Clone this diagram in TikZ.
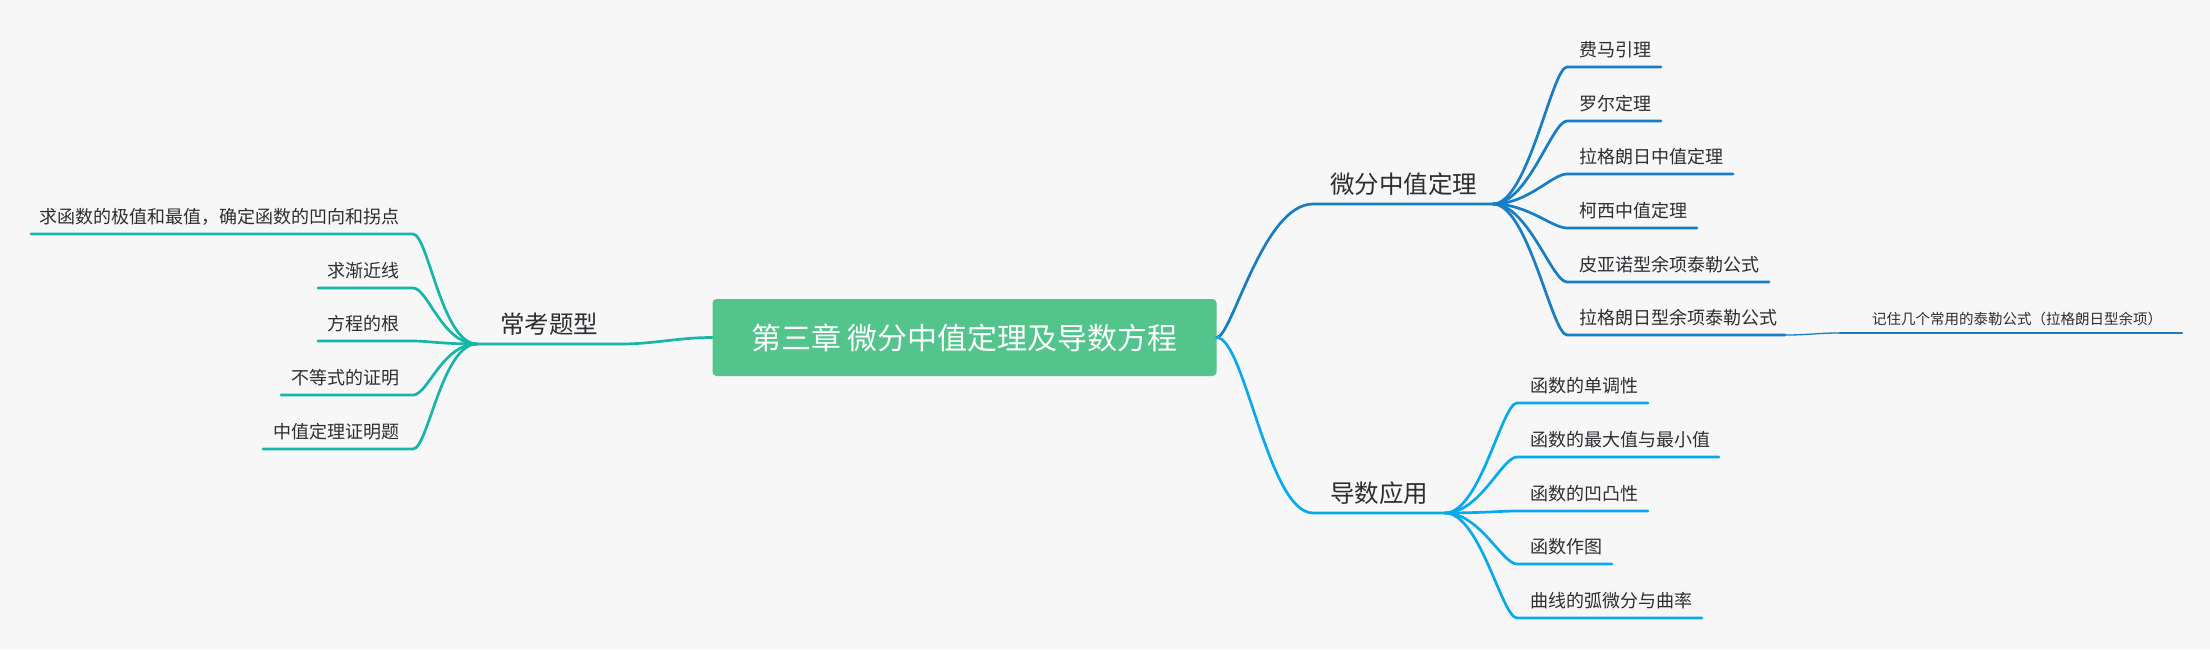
\documentclass[tikz,border=0pt]{standalone}
\usepackage{fontspec}
\setmainfont{Noto Sans CJK SC}
\definecolor{bg}{RGB}{247,247,247}
\definecolor{boxfill}{RGB}{82,196,140}
\definecolor{tealc}{RGB}{23,182,166}
\definecolor{dblue}{RGB}{23,125,197}
\definecolor{lblue}{RGB}{8,170,236}
\definecolor{txt}{RGB}{45,45,50}
\tikzset{
  leaf/.style={inner sep=0pt, font=\fontsize{18}{20}\selectfont, text=txt},
  topic/.style={inner sep=0pt, font=\fontsize{24.5}{27}\selectfont, text=txt},
  note/.style={inner sep=0pt, font=\fontsize{14.5}{16}\selectfont, text=txt},
  con/.style={line width=2.7pt, line cap=round},
  rootbox/.style={fill=boxfill, rounded corners=4pt, minimum width=504pt, minimum height=77pt,
     inner sep=0pt, text=white, font=\fontsize{30}{32}\selectfont},
}
\begin{document}
\begin{tikzpicture}[x=1pt,y=-1pt]
\path[fill=bg] (0,0) rectangle (2210,649);
\useasboundingbox (0,0) rectangle (2210,649);

% root
\node[rootbox] (root) at (964.5,337.5) {第三章 微分中值定理及导数方程};

% ---------- left branch ----------
\coordinate (hubL) at (477,344);
\coordinate (Lm) at (620,344);
\node[topic,anchor=base west] (L) at (500,333) {常考题型};
\draw[con,tealc] (root.west) .. controls +(-35,0) and +(35,0) .. (Lm) -- (hubL);

\coordinate (l1e) at (413,234); \coordinate (l1s) at (31,234);
\coordinate (l2e) at (413,288); \coordinate (l2s) at (318,288);
\coordinate (l3e) at (413,341); \coordinate (l3s) at (318,341);
\coordinate (l4e) at (413,395); \coordinate (l4s) at (281,395);
\coordinate (l5e) at (413,449); \coordinate (l5s) at (263,449);
\foreach \i in {1,...,5}{
  \draw[con,tealc] (hubL) .. controls +(-35,0) and +(15,0) .. (l\i e) -- (l\i s);
}
\node[leaf,anchor=base east] (l1) at (400,223) {求函数的极值和最值，确定函数的凹向和拐点};
\node[leaf,anchor=base east] (l2) at (400,277) {求渐近线};
\node[leaf,anchor=base east] (l3) at (400,330) {方程的根};
\node[leaf,anchor=base east] (l4) at (400,384) {不等式的证明};
\node[leaf,anchor=base east] (l5) at (400,438) {中值定理证明题};

% ---------- upper right branch ----------
\coordinate (hubA) at (1493,204);
\coordinate (Am) at (1313,204);
\node[topic,anchor=base west] (A) at (1330,193) {微分中值定理};
\draw[con,dblue] (root.east) .. controls +(15,0) and +(-50,0) .. (Am) -- (hubA);

\coordinate (a1s) at (1567,67);  \coordinate (a1e) at (1661,67);
\coordinate (a2s) at (1567,121); \coordinate (a2e) at (1661,121);
\coordinate (a3s) at (1567,174); \coordinate (a3e) at (1733,174);
\coordinate (a4s) at (1567,228); \coordinate (a4e) at (1697,228);
\coordinate (a5s) at (1567,282); \coordinate (a5e) at (1769,282);
\coordinate (a6s) at (1567,335); \coordinate (a6e) at (1785,335);
\foreach \i in {1,...,6}{
  \draw[con,dblue] (hubA) .. controls +(35,0) and +(-15,0) .. (a\i s) -- (a\i e);
}
\node[leaf,anchor=base west] (a1) at (1579,56)  {费马引理};
\node[leaf,anchor=base west] (a2) at (1579,110) {罗尔定理};
\node[leaf,anchor=base west] (a3) at (1579,163) {拉格朗日中值定理};
\node[leaf,anchor=base west] (a4) at (1579,217) {柯西中值定理};
\node[leaf,anchor=base west] (a5) at (1579,271) {皮亚诺型余项泰勒公式};
\node[leaf,anchor=base west] (a6) at (1579,324) {拉格朗日型余项泰勒公式};

% note under a6
\coordinate (ns) at (1840,333); \coordinate (ne) at (2182,333);
\draw[dblue,line width=1.3pt] (a6e) .. controls +(25,0) and +(-25,0) .. (ns);
\draw[con,dblue] (ns) -- (ne);
\node[note,anchor=base west] (n1) at (1872,324) {记住几个常用的泰勒公式（拉格朗日型余项）};

% ---------- lower right branch ----------
\coordinate (hubB) at (1445,513);
\coordinate (Bm) at (1313,513);
\node[topic,anchor=base west] (B) at (1330,502) {导数应用};
\draw[con,lblue] (root.east) .. controls +(28,0) and +(-45,0) .. (Bm) -- (hubB);

\coordinate (b1s) at (1517,403); \coordinate (b1e) at (1648,403);
\coordinate (b2s) at (1517,457); \coordinate (b2e) at (1719,457);
\coordinate (b3s) at (1517,511); \coordinate (b3e) at (1648,511);
\coordinate (b4s) at (1517,564); \coordinate (b4e) at (1612,564);
\coordinate (b5s) at (1517,618); \coordinate (b5e) at (1702,618);
\foreach \i in {1,...,5}{
  \draw[con,lblue] (hubB) .. controls +(35,0) and +(-15,0) .. (b\i s) -- (b\i e);
}
\node[leaf,anchor=base west] (b1) at (1530,392) {函数的单调性};
\node[leaf,anchor=base west] (b2) at (1530,446) {函数的最大值与最小值};
\node[leaf,anchor=base west] (b3) at (1530,500) {函数的凹凸性};
\node[leaf,anchor=base west] (b4) at (1530,553) {函数作图};
\node[leaf,anchor=base west] (b5) at (1530,607) {曲线的弧微分与曲率};
\end{tikzpicture}
\end{document}
